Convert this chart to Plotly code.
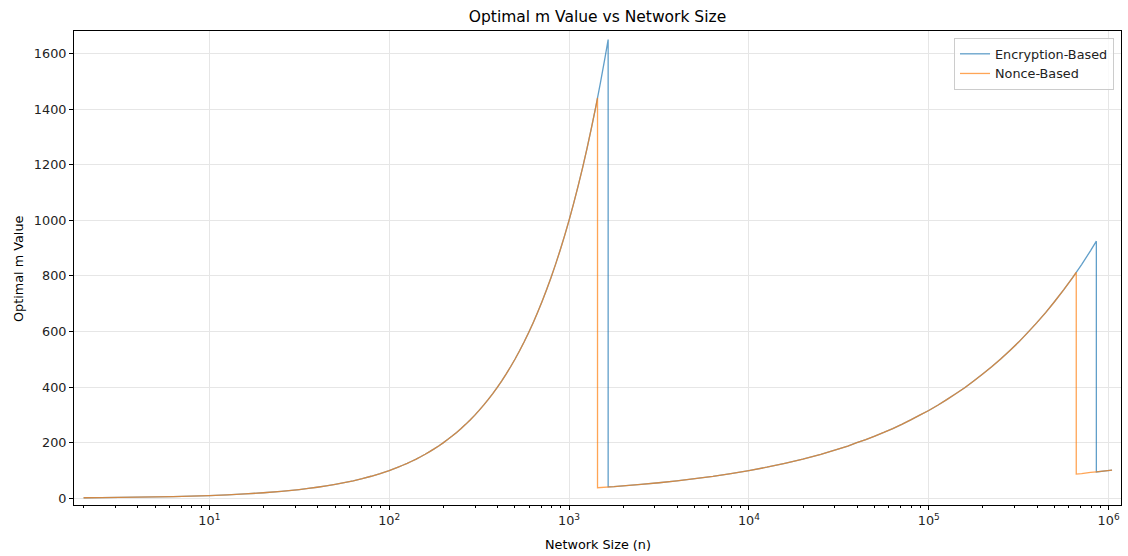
import plotly.graph_objects as go

# ---- data ----
# Shared rising part (both schemes identical): network size n and optimal m
seg1_n = [2, 2.51, 3.16, 3.98, 5.01, 6.31, 7.94, 10, 12.6, 15.8, 20.0, 25.1,
          31.6, 35.5, 39.8, 44.7, 50.1, 56.2, 63.1, 70.8, 79.4, 89.1,
          100, 105.9, 112.2, 118.9, 125.9, 133.4, 141.3, 149.6, 158.5, 167.9,
          177.8, 188.4, 199.5, 211.3, 223.9, 237.1, 251.2, 266.1, 281.8, 298.5,
          316.2, 335.0, 354.8, 375.8, 398.1, 421.7, 446.7, 473.2, 501.2, 530.9,
          562.3, 595.7, 631.0, 668.3, 707.9, 749.9, 794.3, 841.4, 891.3, 944.1,
          1000, 1059, 1122, 1189, 1259, 1334, 1413]
seg1_m = [2, 2.5, 3.2, 4, 5, 6.3, 7.9, 10, 12.6, 15.8, 20, 25.1,
          31.6, 35.5, 39.8, 44.7, 50.1, 56.2, 63.1, 70.8, 79.4, 89.1,
          100, 105.9, 112.2, 118.9, 125.9, 133.4, 141.3, 149.6, 158.5, 167.9,
          177.8, 188.4, 199.5, 211.3, 223.9, 237.1, 251.2, 266.1, 281.8, 298.5,
          316.2, 335.0, 354.8, 375.8, 398.1, 421.7, 446.7, 473.2, 501.2, 530.9,
          562.3, 595.7, 631.0, 668.3, 707.9, 749.9, 794.3, 841.4, 891.3, 944.1,
          1000, 1059, 1122, 1189, 1259, 1334, 1413]

# first peak and drop
nonce_peak1_n = [1440, 1440]
nonce_peak1_m = [1440, 38]
enc_peak1_n = [1496, 1585, 1650, 1650]
enc_peak1_m = [1496, 1585, 1650, 41]

# Shared slowly rising part
seg2_n = [1778, 1995, 2512, 3162, 3981, 5012, 6310, 7943, 10000, 12589, 15849,
          19953, 25119, 31623, 35481, 39811, 44668, 50119, 56234, 63096, 70795,
          79433, 89125, 100000, 112202, 125893, 141254, 158489, 177828, 199526,
          223872, 251189, 281838, 316228, 354813, 398107, 446684, 501187,
          562341, 630957]
seg2_m = [42, 45, 50, 56, 63, 71, 79, 89, 100, 112, 126,
          141, 158, 178, 188, 200, 211, 224, 237, 251, 266,
          282, 299, 316, 335, 355, 376, 398, 422, 447,
          473, 501, 531, 562, 596, 631, 668, 708,
          750, 794]

# second peak and drop
nonce_tail_n = [661000, 661000, 708000, 794000, 855000]
nonce_tail_m = [813, 87, 89, 93, 95]
enc_tail_n = [661000, 707946, 794328, 855000, 855000]
enc_tail_m = [813, 841, 891, 925, 95]

# shared end point
end_n = [1045000]
end_m = [101.5]

enc_n = seg1_n + enc_peak1_n + seg2_n + enc_tail_n + end_n
enc_m = seg1_m + enc_peak1_m + seg2_m + enc_tail_m + end_m
nonce_n = seg1_n + nonce_peak1_n + seg2_n + nonce_tail_n + end_n
nonce_m = seg1_m + nonce_peak1_m + seg2_m + nonce_tail_m + end_m

x_tick_vals = [10, 100, 1000, 10000, 100000, 1000000]
x_tick_text = ["10<sup>1</sup>", "10<sup>2</sup>", "10<sup>3</sup>",
               "10<sup>4</sup>", "10<sup>5</sup>", "10<sup>6</sup>"]
y_tick_vals = [0, 200, 400, 600, 800, 1000, 1200, 1400, 1600]

minor_vals = [m * 10 ** e for e in range(0, 7) for m in range(2, 10)]

FONT = "DejaVu Sans"
FS = 12.8
W, H = 1128, 556
L, R, T, B = 74, 1121, 31, 505

fig = go.Figure()
fig.add_trace(go.Scatter(x=enc_n, y=enc_m, mode="lines", name="Encryption-Based",
                         line=dict(color="#1f77b4", width=1.3, simplify=False),
                         opacity=0.7))
fig.add_trace(go.Scatter(x=nonce_n, y=nonce_m, mode="lines", name="Nonce-Based",
                         line=dict(color="#ff7f0e", width=1.3, simplify=False),
                         opacity=0.7))

fig.update_layout(
    width=W, height=H,
    margin=dict(l=L, r=W - R, t=T, b=H - B, autoexpand=False),
    plot_bgcolor="white", paper_bgcolor="white",
    font=dict(family=FONT, size=FS, color="black"),
    title=dict(text="Optimal m Value vs Network Size", x=0.5,
               xanchor="center", xref="paper", y=1 - 17 / H, yanchor="middle",
               font=dict(family=FONT, size=15.5, color="black")),
    showlegend=True,
    legend=dict(x=(1114 - L) / (R - L), xanchor="right", y=1 - (38 - T) / (B - T),
                yanchor="top",
                bgcolor="rgba(255,255,255,0.8)", bordercolor="#cccccc", borderwidth=1,
                font=dict(family=FONT, size=FS, color="#222222"),
                tracegroupgap=0, itemwidth=30),
    annotations=[
        dict(text="Network Size (n)", xref="paper", yref="paper",
             x=0.5, y=-(544 - B) / (B - T), xanchor="center", yanchor="middle",
             showarrow=False, font=dict(family=FONT, size=FS, color="black")),
        dict(text="Optimal m Value", xref="paper", yref="paper",
             x=-(L - 18) / (R - L), y=1 - (269 - T) / (B - T), xanchor="center",
             yanchor="middle", textangle=-90,
             showarrow=False, font=dict(family=FONT, size=FS, color="black")),
    ],
)

fig.update_xaxes(
    type="log", range=[0.2475, 6.069], automargin=False,
    tickmode="array", tickvals=x_tick_vals, ticktext=x_tick_text,
    ticks="outside", ticklen=4, tickwidth=1, tickcolor="black",
    tickfont=dict(family=FONT, size=FS, color="#222222"),
    showline=True, linecolor="black", linewidth=1, mirror=True,
    showgrid=True, gridcolor="#e6e6e6", gridwidth=1, zeroline=False,
    minor=dict(tickmode="array", tickvals=minor_vals, ticks="outside", ticklen=2.4,
               tickwidth=0.8, tickcolor="black", showgrid=False),
)
fig.update_yaxes(
    range=[-24, 1681], automargin=False,
    tickmode="array", tickvals=y_tick_vals,
    ticks="outside", ticklen=4, tickwidth=1, tickcolor="black",
    tickfont=dict(family=FONT, size=FS, color="#222222"),
    showline=True, linecolor="black", linewidth=1, mirror=True,
    showgrid=True, gridcolor="#e6e6e6", gridwidth=1, zeroline=False,
)

fig.write_html("out.html", config={"displayModeBar": False},
               post_script="document.body.style.margin='0';document.body.style.padding='0';")
